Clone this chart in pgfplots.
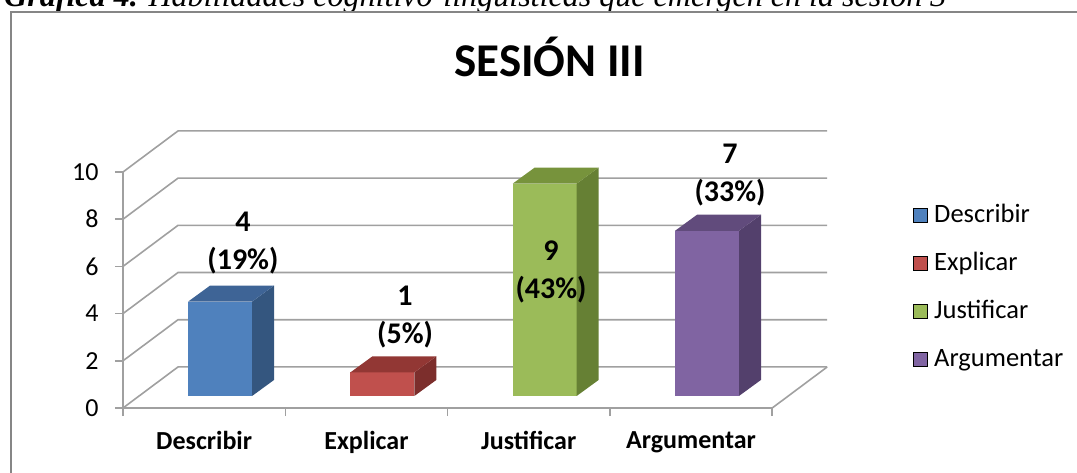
\documentclass[border=0pt]{standalone}
\usepackage{fontspec}
\setmainfont{Carlito}
\newfontfamily\timesf{Liberation Serif}
\usepackage{graphicx}
\usepackage{pgfplots}
\pgfplotsset{compat=1.18}
\definecolor{gridc}{RGB}{160,160,160}
\definecolor{framec}{RGB}{134,134,134}
\definecolor{bF}{RGB}{79,129,189}\definecolor{bT}{RGB}{62,100,150}\definecolor{bS}{RGB}{52,86,127}
\definecolor{rF}{RGB}{192,80,77}\definecolor{rT}{RGB}{146,55,52}\definecolor{rS}{RGB}{124,46,44}
\definecolor{gF}{RGB}{155,187,89}\definecolor{gT}{RGB}{119,147,60}\definecolor{gS}{RGB}{102,128,52}
\definecolor{pF}{RGB}{128,100,162}\definecolor{pT}{RGB}{97,75,124}\definecolor{pS}{RGB}{83,64,108}
\begin{document}
\begin{tikzpicture}
\useasboundingbox (0pt,0pt) rectangle (1077pt,472pt);
\clip (0pt,0pt) rectangle (1077pt,472pt);
\node[anchor=base west, inner sep=0pt] at (4pt,465pt) {\resizebox{942pt}{!}{\timesf\itshape{\bfseries Gráfica 4.} Habilidades cognitivo-lingüísticas que emergen en la sesión 3}};
\draw[framec, line width=2pt] (11pt,460pt) rectangle (1100pt,-20pt);
\node[font=\bfseries\fontsize{47}{52}\selectfont, anchor=base, inner sep=0pt] at (549.5pt,395pt) {SESIÓN III};
\begin{axis}[
  at={(123pt,64pt)}, anchor=south west,
  x=162.3pt, y=23.6pt,
  xmin=-0.5, xmax=3.84, ymin=0, ymax=11.74,
  clip=false,
  axis x line*=bottom, axis y line*=left,
  axis line style={draw=none},
  tick align=outside, major tick length=8pt,
  tick style={gridc, line width=1.6pt},
  xtick={-0.5,0.5,1.5,2.5,3.5}, xticklabels={,,,,},
  extra x ticks={0,1,2,3},
  extra x tick labels={Describir,Explicar,Justificar,Argumentar},
  extra x tick style={major tick length=0pt, tick label style={font=\bfseries\fontsize{26}{30}\selectfont, yshift=-20pt}},
  ytick={0,2,4,6,8,10},
  yticklabel style={font=\fontsize{26}{30}\selectfont, xshift=-13pt},
  /pgf/number format/assume math mode=true,
  legend cell align=left,
  legend style={draw=none, fill=none, at={(axis description cs:1.121,0.432)}, anchor=west,
    font=\fontsize{26.5}{30}\selectfont, row sep=23.8pt, inner sep=0pt,
    nodes={inner sep=0pt, text height=18pt, text depth=6pt},
    /tikz/every odd column/.append style={column sep=7pt}},
  legend image code/.code={\fill[#1] (0pt,-6pt) rectangle (14pt,8pt);},
]
% walls
\addplot[gridc, line width=1.6pt, forget plot] coordinates {(-0.5,0) (-0.161,1.74) (3.839,1.74)};
\addplot[gridc, line width=1.6pt, forget plot] coordinates {(-0.5,2) (-0.161,3.74) (3.839,3.74)};
\addplot[gridc, line width=1.6pt, forget plot] coordinates {(-0.5,4) (-0.161,5.74) (3.839,5.74)};
\addplot[gridc, line width=1.6pt, forget plot] coordinates {(-0.5,6) (-0.161,7.74) (3.839,7.74)};
\addplot[gridc, line width=1.6pt, forget plot] coordinates {(-0.5,8) (-0.161,9.74) (3.839,9.74)};
\addplot[gridc, line width=1.6pt, forget plot] coordinates {(-0.5,10) (-0.161,11.74) (3.839,11.74)};
\addplot[gridc, line width=1.6pt, forget plot] coordinates {(-0.5,10) (-0.5,0) (3.5,0) (3.839,1.74)};
% bar Describir = 4
\addplot[fill=bF, draw=none, forget plot] coordinates {(-0.0985,0.51) (0.2955,0.51) (0.2955,4.51) (-0.0985,4.51)};
\addplot[fill=bS, draw=none, forget plot] coordinates {(0.2955,0.51) (0.431,1.19) (0.431,5.19) (0.2955,4.51)};
\addplot[fill=bT, draw=none, forget plot] coordinates {(-0.0985,4.51) (0.037,5.19) (0.431,5.19) (0.2955,4.51)};
% bar Explicar = 1
\addplot[fill=rF, draw=none, forget plot] coordinates {(0.9015,0.51) (1.2955,0.51) (1.2955,1.51) (0.9015,1.51)};
\addplot[fill=rS, draw=none, forget plot] coordinates {(1.2955,0.51) (1.431,1.19) (1.431,2.19) (1.2955,1.51)};
\addplot[fill=rT, draw=none, forget plot] coordinates {(0.9015,1.51) (1.037,2.19) (1.431,2.19) (1.2955,1.51)};
% bar Justificar = 9
\addplot[fill=gF, draw=none, forget plot] coordinates {(1.9015,0.51) (2.2955,0.51) (2.2955,9.51) (1.9015,9.51)};
\addplot[fill=gS, draw=none, forget plot] coordinates {(2.2955,0.51) (2.431,1.19) (2.431,10.19) (2.2955,9.51)};
\addplot[fill=gT, draw=none, forget plot] coordinates {(1.9015,9.51) (2.037,10.19) (2.431,10.19) (2.2955,9.51)};
% bar Argumentar = 7
\addplot[fill=pF, draw=none, forget plot] coordinates {(2.9015,0.51) (3.2955,0.51) (3.2955,7.51) (2.9015,7.51)};
\addplot[fill=pS, draw=none, forget plot] coordinates {(3.2955,0.51) (3.431,1.19) (3.431,8.19) (3.2955,7.51)};
\addplot[fill=pT, draw=none, forget plot] coordinates {(2.9015,7.51) (3.037,8.19) (3.431,8.19) (3.2955,7.51)};
% labels
\node[font=\bfseries\fontsize{30}{38}\selectfont, align=center] at (axis cs:0.239,7.0) {4\\(19\%)};
\node[font=\bfseries\fontsize{30}{38}\selectfont, align=center] at (axis cs:1.238,3.85) {1\\(5\%)};
\node[font=\bfseries\fontsize{30}{38}\selectfont, align=center] at (axis cs:2.137,5.75) {9\\(43\%)};
\node[font=\bfseries\fontsize{30}{38}\selectfont, align=center] at (axis cs:3.24,9.85) {7\\(33\%)};
% legend
\addlegendimage{fill=bF}\addlegendentry{Describir}
\addlegendimage{fill=rF}\addlegendentry{Explicar}
\addlegendimage{fill=gF}\addlegendentry{Justificar}
\addlegendimage{fill=pF}\addlegendentry{Argumentar}
\end{axis}
\end{tikzpicture}
\end{document}
